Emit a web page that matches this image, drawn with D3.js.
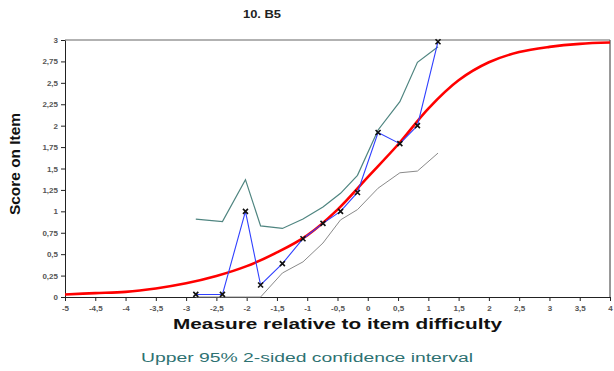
<!DOCTYPE html>
<html>
<head>
<meta charset="utf-8">
<script src="https://cdn.jsdelivr.net/npm/d3@7"></script>
<style>
  body { margin: 0; background: #fff; }
  svg { display: block; font-family: Arial, "Liberation Sans", sans-serif; }
</style>
</head>
<body>
<div class="chart"></div>
<script>
// values
const obsX = [-2.84, -2.40, -2.02, -1.77, -1.41, -1.07, -0.74, -0.45, -0.17, 0.17, 0.53, 0.82, 1.16];
const obsY = [0.03, 0.03, 1.00, 0.14, 0.39, 0.68, 0.86, 1.00, 1.22, 1.92, 1.79, 2.00, 2.98];
const upperY = [0.91, 0.88, 1.37, 0.83, 0.80, 0.91, 1.05, 1.21, 1.42, 1.95, 2.28, 2.74, 2.92];
const lowerY = [0, 0, 0, 0, 0.28, 0.41, 0.63, 0.90, 1.02, 1.27, 1.45, 1.47, 1.68];
const modelX = [-5, -4.5, -4, -3.5, -3, -2.5, -2, -1.5, -1, -0.5, 0, 0.5, 1, 1.5, 2, 2.5, 3, 3.5, 4];
const modelY = [0.03, 0.045, 0.06, 0.1, 0.16, 0.245, 0.36, 0.52, 0.72, 1.02, 1.4, 1.78, 2.2, 2.53, 2.74, 2.86, 2.92, 2.955, 2.97];
const xTicks = d3.range(-5, 4.01, 0.5);
const yTicks = d3.range(0, 3.01, 0.25);

const width = 614, height = 371;
const svg = d3.select("div.chart").append("svg")
    .attr("width", width).attr("height", height);

const x = d3.scaleLinear().domain([-5, 4]).range([65, 610]);
const y = d3.scaleLinear().domain([0, 3]).range([297, 40]);

const fmt = d => String(+d.toFixed(2)).replace(".", ",");

// frame
svg.append("line").attr("x1", x(-5)).attr("x2", x(4)).attr("y1", y(3)).attr("y2", y(3))
    .attr("stroke", "#999").attr("stroke-width", 1.5);
svg.append("line").attr("x1", x(4)).attr("x2", x(4)).attr("y1", y(3)).attr("y2", y(0))
    .attr("stroke", "#333");

// axes
const xAxis = svg.append("g").attr("transform", `translate(0,${y(0)})`)
    .call(d3.axisBottom(x).tickValues(xTicks).tickFormat(fmt).tickSize(4).tickSizeOuter(0));
const yAxis = svg.append("g").attr("transform", `translate(${x(-5)},0)`)
    .call(d3.axisLeft(y).tickValues(yTicks).tickFormat(fmt).tickSize(4).tickSizeOuter(0));
[xAxis, yAxis].forEach(g => {
    g.selectAll("path, line").attr("stroke", "#222");
    g.selectAll("text").attr("fill", "#555").style("font-size", "8px").style("font-weight", "bold");
});
xAxis.selectAll("text").attr("dy", "0.9em");

const line = d3.line().x(d => x(d[0])).y(d => y(d[1]));

// confidence interval lines
svg.append("path").datum(obsX.map((v, i) => [v, upperY[i]]))
    .attr("d", line).attr("fill", "none").attr("stroke", "#4f8580").attr("stroke-width", 1.2);
svg.append("path").datum(obsX.map((v, i) => [v, lowerY[i]]))
    .attr("d", line).attr("fill", "none").attr("stroke", "#8a8a8a").attr("stroke-width", 1);

// model curve
svg.append("path").datum(modelX.map((v, i) => [v, modelY[i]]))
    .attr("d", line.curve(d3.curveCatmullRom)).attr("fill", "none")
    .attr("stroke", "#ff0000").attr("stroke-width", 2.6);

// observed
const obs = obsX.map((v, i) => [v, obsY[i]]);
svg.append("path").datum(obs)
    .attr("d", d3.line().x(d => x(d[0])).y(d => y(d[1])))
    .attr("fill", "none").attr("stroke", "#3040ff").attr("stroke-width", 1.1);
svg.append("g").selectAll("path").data(obs).enter().append("path")
    .attr("transform", d => `translate(${x(d[0])},${y(d[1])})`)
    .attr("d", "M-2.5,-2.5L2.5,2.5M-2.5,2.5L2.5,-2.5")
    .attr("stroke", "#111").attr("stroke-width", 1.6);

// texts
svg.append("text").attr("x", 243).attr("y", 18)
    .attr("textLength", 38).attr("lengthAdjust", "spacingAndGlyphs")
    .style("font-size", "10.5px").style("font-weight", "bold").attr("fill", "#222").text("10. B5");
svg.append("text").attr("transform", "translate(20,215) rotate(-90)")
    .attr("textLength", 102).attr("lengthAdjust", "spacingAndGlyphs")
    .style("font-size", "15px").style("font-weight", "bold").attr("fill", "#111").text("Score on Item");
svg.append("text").attr("x", 173).attr("y", 329)
    .attr("textLength", 329).attr("lengthAdjust", "spacingAndGlyphs")
    .style("font-size", "14px").style("font-weight", "bold").attr("fill", "#111")
    .text("Measure relative to item difficulty");
svg.append("text").attr("x", 141).attr("y", 362)
    .attr("textLength", 332).attr("lengthAdjust", "spacingAndGlyphs")
    .style("font-size", "12.5px").attr("fill", "#2e7272")
    .text("Upper 95% 2-sided confidence interval");
</script>
</body>
</html>
